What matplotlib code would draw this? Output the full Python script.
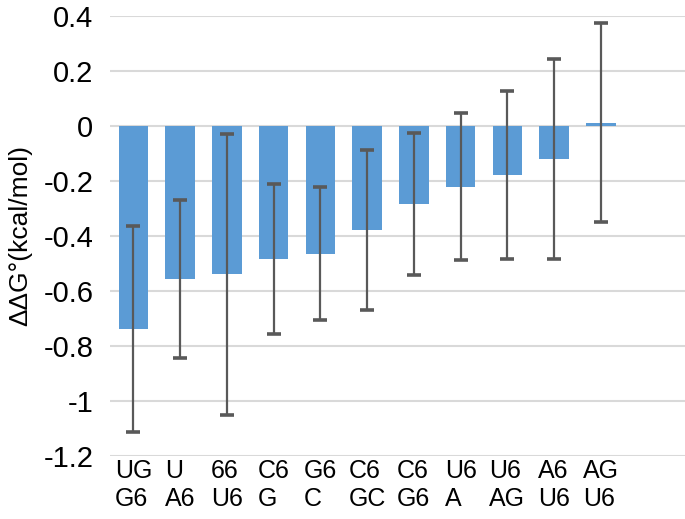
import numpy as np
import matplotlib.pyplot as plt

plt.rcParams['font.family'] = ['Liberation Sans', 'DejaVu Sans']

labels = ["UG\nG6", "U\nA6", "66\nU6", "C6\nG", "G6\nC", "C6\nGC",
          "C6\nG6", "U6\nA", "U6\nAG", "A6\nU6", "AG\nU6"]
ddg = [-0.739, -0.556, -0.539, -0.485, -0.464, -0.379,
       -0.284, -0.221, -0.179, -0.120, 0.012]
err = [0.374, 0.286, 0.511, 0.273, 0.243, 0.290,
       0.259, 0.268, 0.306, 0.362, 0.362]
yticks = [0.4, 0.2, 0, -0.2, -0.4, -0.6, -0.8, -1, -1.2]

fig = plt.figure(figsize=(6.85, 5.19), dpi=100)
ax = fig.add_axes([110 / 685, 63 / 519, 1 - 110 / 685, 440 / 519])

x = np.arange(len(labels))
ax.bar(x, ddg, width=0.63, color="#5B9BD5", zorder=2)
ax.errorbar(x, ddg, yerr=err, fmt="none", ecolor="#595959",
            elinewidth=1.6, capsize=5, capthick=2.6, zorder=3)

ax.set_xlim(-0.5, 11.8)
ax.set_ylim(-1.2, 0.4)
ax.set_yticks(yticks)
ax.set_yticklabels([f"{v:g}" for v in yticks], fontsize=21)
ax.set_xticks(x)
ax.set_xticklabels(labels, fontsize=18, multialignment="left", linespacing=1.2)
ax.tick_params(axis="y", length=0, pad=12)
ax.tick_params(axis="x", length=0, pad=2)
ax.grid(axis="y", color="#D9D9D9", linewidth=1.5, zorder=0)
for s in ax.spines.values():
    s.set_visible(False)
ax.set_ylabel("ΔΔG°(kcal/mol)", fontsize=19, labelpad=8)

fig.savefig("out.png", dpi=100)
